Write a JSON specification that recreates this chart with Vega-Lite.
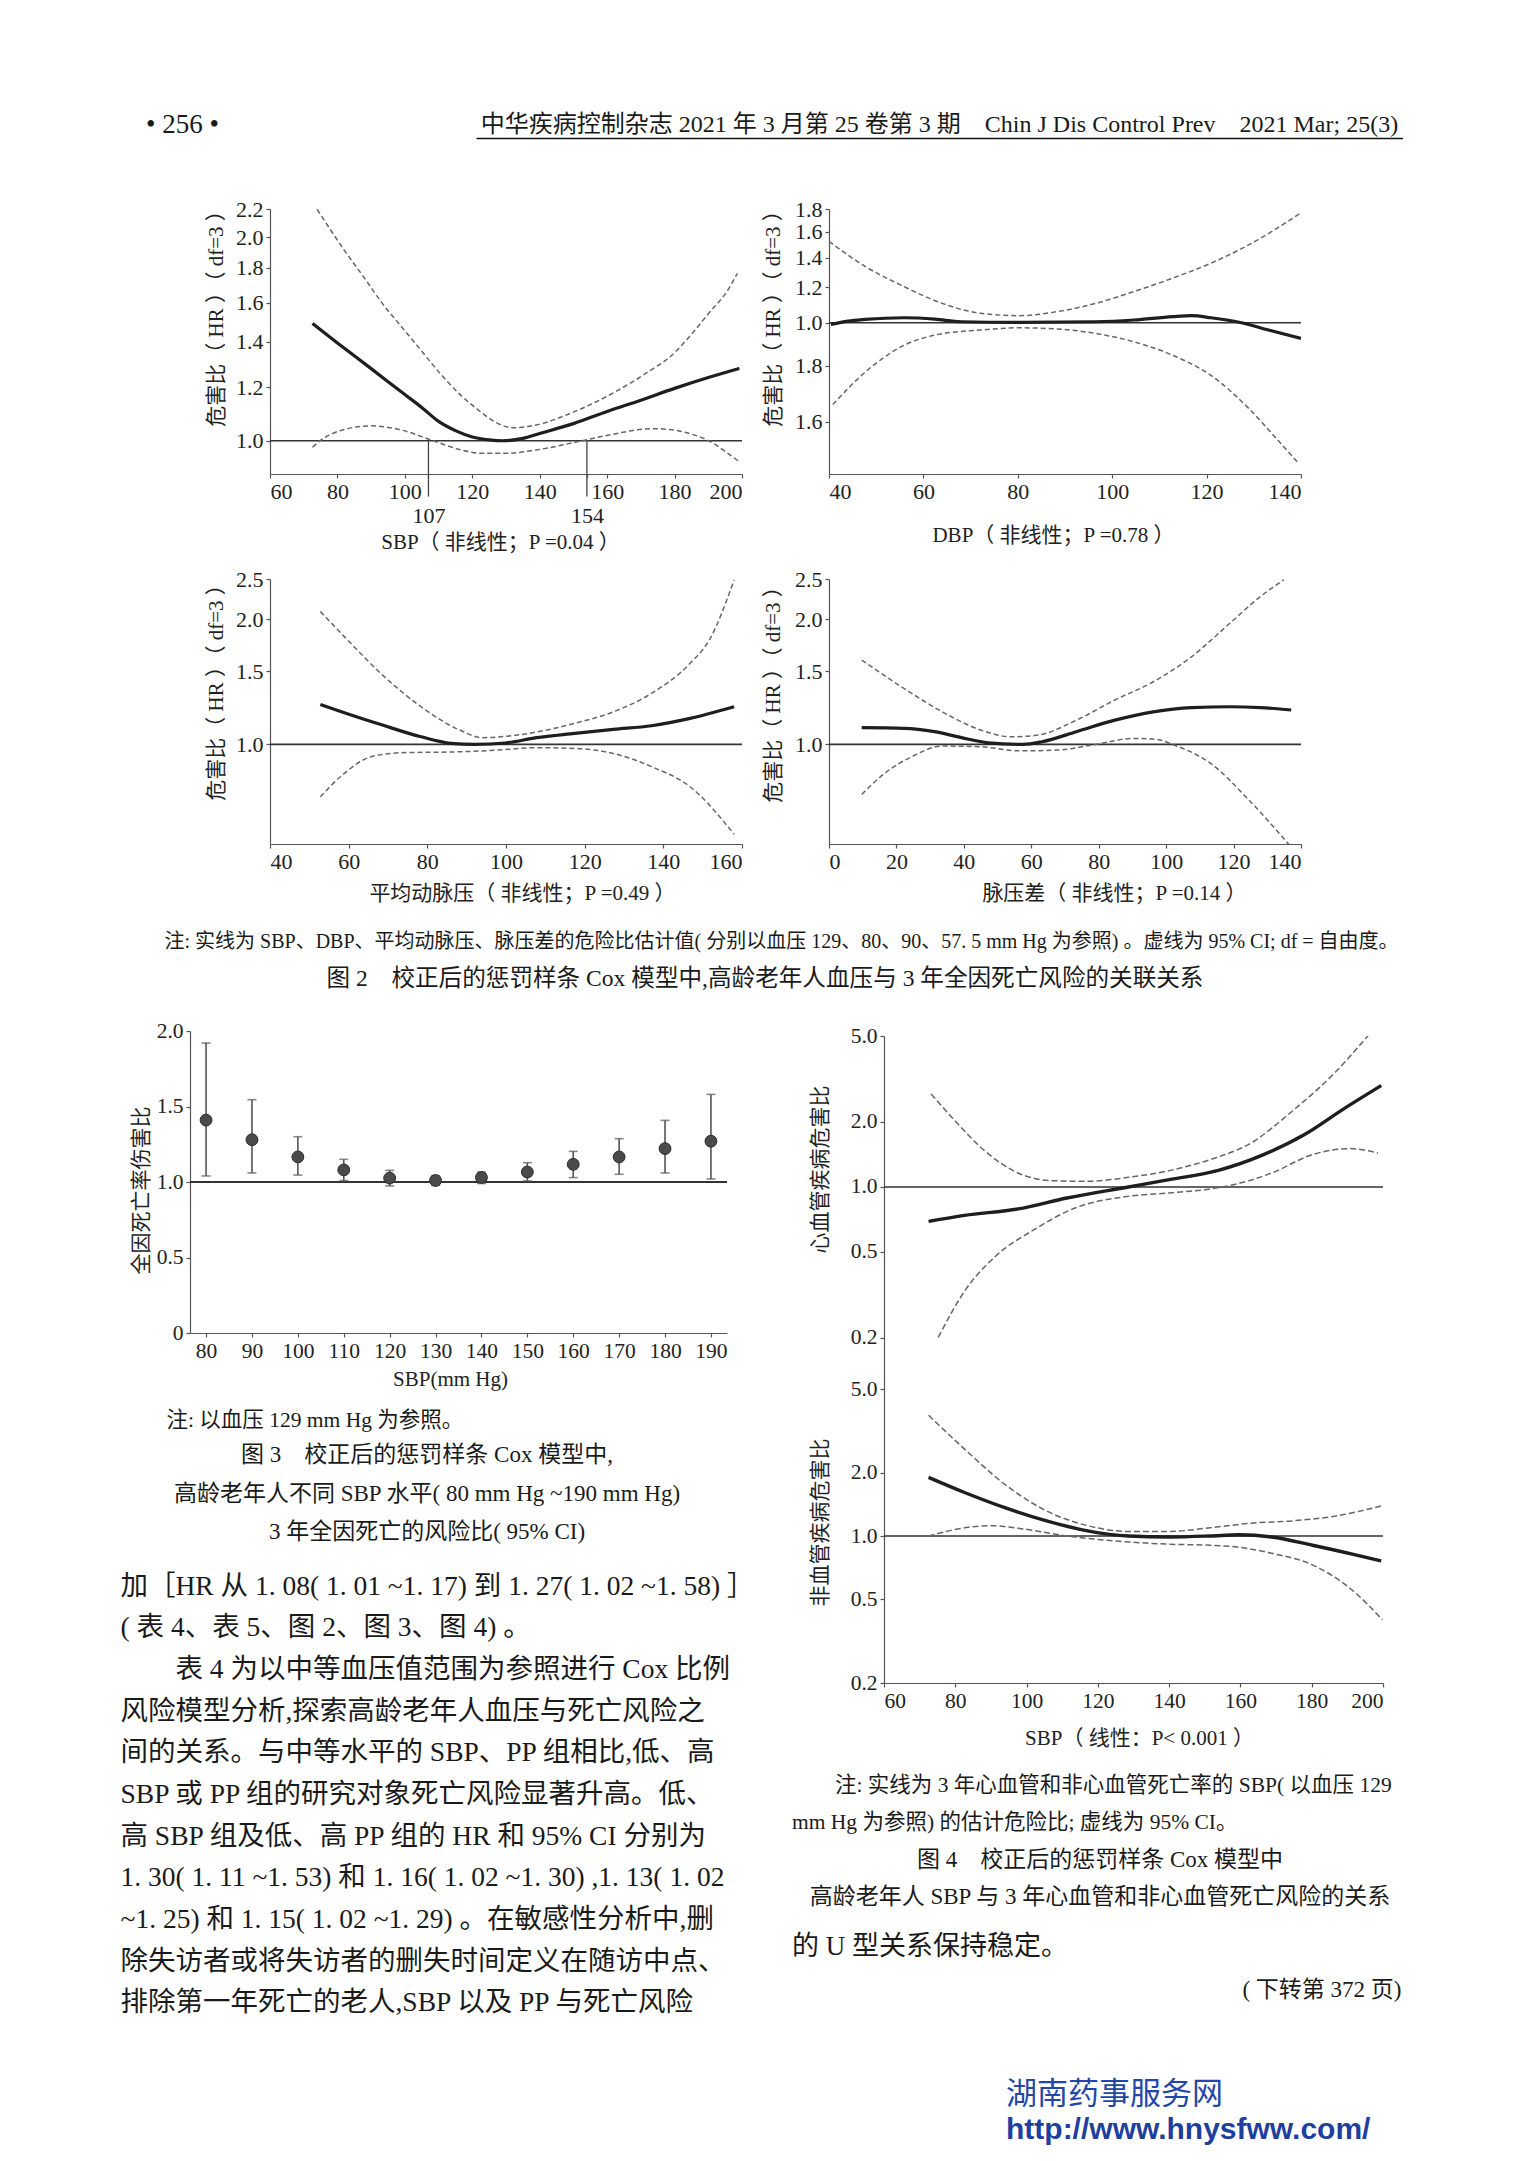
{
"$schema": "https://vega.github.io/schema/vega-lite/v6.json",
"padding": 0,
"autosize": {"type": "pad"},
"background": "white",
"spacing": 0,
"datasets": {
"A": [
{"x":72.6,"hr":1.49,"s":"est"},{"x":80,"hr":1.395,"s":"est"},{"x":90,"hr":1.278,"s":"est"},{"x":100,"hr":1.17,"s":"est"},{"x":105,"hr":1.12,"s":"est"},{"x":110,"hr":1.068,"s":"est"},{"x":115,"hr":1.035,"s":"est"},{"x":120,"hr":1.013,"s":"est"},{"x":125,"hr":1.003,"s":"est"},{"x":129,"hr":1.0,"s":"est"},{"x":135,"hr":1.008,"s":"est"},{"x":140,"hr":1.025,"s":"est"},{"x":145,"hr":1.042,"s":"est"},{"x":150,"hr":1.06,"s":"est"},{"x":160,"hr":1.105,"s":"est"},{"x":170,"hr":1.148,"s":"est"},{"x":180,"hr":1.195,"s":"est"},{"x":190,"hr":1.24,"s":"est"},{"x":199.2,"hr":1.279,"s":"est"},
{"x":74,"hr":2.197,"s":"hi"},{"x":82,"hr":1.913,"s":"hi"},{"x":87.7,"hr":1.748,"s":"hi"},{"x":93.3,"hr":1.596,"s":"hi"},{"x":99,"hr":1.474,"s":"hi"},{"x":104.7,"hr":1.362,"s":"hi"},{"x":110.4,"hr":1.258,"s":"hi"},{"x":116,"hr":1.175,"s":"hi"},{"x":121.8,"hr":1.11,"s":"hi"},{"x":127.5,"hr":1.061,"s":"hi"},{"x":132,"hr":1.045,"s":"hi"},{"x":138.9,"hr":1.055,"s":"hi"},{"x":150.3,"hr":1.104,"s":"hi"},{"x":161.6,"hr":1.175,"s":"hi"},{"x":173,"hr":1.272,"s":"hi"},{"x":178.7,"hr":1.331,"s":"hi"},{"x":184.4,"hr":1.425,"s":"hi"},{"x":190.1,"hr":1.542,"s":"hi"},{"x":195.8,"hr":1.67,"s":"hi"},{"x":198.6,"hr":1.767,"s":"hi"},
{"x":72.6,"hr":0.978,"s":"lo"},{"x":75.1,"hr":1.002,"s":"lo"},{"x":82,"hr":1.039,"s":"lo"},{"x":89.9,"hr":1.052,"s":"lo"},{"x":99,"hr":1.037,"s":"lo"},{"x":108.4,"hr":1.0,"s":"lo"},{"x":116.1,"hr":0.971,"s":"lo"},{"x":123,"hr":0.958,"s":"lo"},{"x":129.8,"hr":0.958,"s":"lo"},{"x":138.9,"hr":0.969,"s":"lo"},{"x":151.4,"hr":0.997,"s":"lo"},{"x":161.6,"hr":1.022,"s":"lo"},{"x":173,"hr":1.042,"s":"lo"},{"x":178.7,"hr":1.039,"s":"lo"},{"x":184.4,"hr":1.025,"s":"lo"},{"x":190.1,"hr":1.0,"s":"lo"},{"x":195.8,"hr":0.958,"s":"lo"},{"x":199.2,"hr":0.931,"s":"lo"}
],
"B": [
{"x":40.4,"hr":0.991,"s":"est"},{"x":44,"hr":1.008,"s":"est"},{"x":47.7,"hr":1.017,"s":"est"},{"x":55.9,"hr":1.026,"s":"est"},{"x":62.4,"hr":1.019,"s":"est"},{"x":68,"hr":1.005,"s":"est"},{"x":80.2,"hr":1.002,"s":"est"},{"x":96.5,"hr":1.005,"s":"est"},{"x":104.6,"hr":1.014,"s":"est"},{"x":112.8,"hr":1.032,"s":"est"},{"x":116.8,"hr":1.037,"s":"est"},{"x":120.9,"hr":1.026,"s":"est"},{"x":127.4,"hr":1.0,"s":"est"},{"x":133.1,"hr":0.963,"s":"est"},{"x":140,"hr":0.922,"s":"est"},
{"x":40,"hr":1.523,"s":"hi"},{"x":47.7,"hr":1.337,"s":"hi"},{"x":55.9,"hr":1.205,"s":"hi"},{"x":64,"hr":1.105,"s":"hi"},{"x":72.1,"hr":1.05,"s":"hi"},{"x":80.2,"hr":1.037,"s":"hi"},{"x":88.4,"hr":1.059,"s":"hi"},{"x":96.5,"hr":1.105,"s":"hi"},{"x":104.6,"hr":1.175,"s":"hi"},{"x":112.8,"hr":1.259,"s":"hi"},{"x":120.9,"hr":1.36,"s":"hi"},{"x":129,"hr":1.497,"s":"hi"},{"x":140,"hr":1.764,"s":"hi"},
{"x":40.8,"hr":0.655,"s":"lo"},{"x":47.7,"hr":0.775,"s":"lo"},{"x":55.9,"hr":0.89,"s":"lo"},{"x":62.4,"hr":0.938,"s":"lo"},{"x":72.1,"hr":0.963,"s":"lo"},{"x":80.2,"hr":0.974,"s":"lo"},{"x":88.4,"hr":0.968,"s":"lo"},{"x":96.5,"hr":0.946,"s":"lo"},{"x":104.6,"hr":0.906,"s":"lo"},{"x":112.8,"hr":0.845,"s":"lo"},{"x":120.9,"hr":0.762,"s":"lo"},{"x":129,"hr":0.641,"s":"lo"},{"x":135.5,"hr":0.539,"s":"lo"},{"x":139.6,"hr":0.482,"s":"lo"}
],
"C": [
{"x":52.8,"hr":1.248,"s":"est"},{"x":58.9,"hr":1.192,"s":"est"},{"x":68.6,"hr":1.113,"s":"est"},{"x":78.4,"hr":1.043,"s":"est"},{"x":86,"hr":1.006,"s":"est"},{"x":92,"hr":1.0,"s":"est"},{"x":99.9,"hr":1.008,"s":"est"},{"x":107.7,"hr":1.038,"s":"est"},{"x":117.5,"hr":1.063,"s":"est"},{"x":127.3,"hr":1.087,"s":"est"},{"x":137,"hr":1.109,"s":"est"},{"x":146.8,"hr":1.155,"s":"est"},{"x":158,"hr":1.232,"s":"est"},
{"x":52.8,"hr":2.088,"s":"hi"},{"x":58.9,"hr":1.817,"s":"hi"},{"x":68.6,"hr":1.469,"s":"hi"},{"x":78.4,"hr":1.232,"s":"hi"},{"x":88.2,"hr":1.083,"s":"hi"},{"x":94,"hr":1.038,"s":"hi"},{"x":102.8,"hr":1.053,"s":"hi"},{"x":117.5,"hr":1.124,"s":"hi"},{"x":127.3,"hr":1.198,"s":"hi"},{"x":137,"hr":1.327,"s":"hi"},{"x":146.8,"hr":1.567,"s":"hi"},{"x":151.7,"hr":1.784,"s":"hi"},{"x":158,"hr":2.488,"s":"hi"},
{"x":52.8,"hr":0.748,"s":"lo"},{"x":58.9,"hr":0.852,"s":"lo"},{"x":65.7,"hr":0.934,"s":"lo"},{"x":73.5,"hr":0.955,"s":"lo"},{"x":88.2,"hr":0.96,"s":"lo"},{"x":98,"hr":0.969,"s":"lo"},{"x":107.7,"hr":0.982,"s":"lo"},{"x":117.5,"hr":0.978,"s":"lo"},{"x":127.3,"hr":0.951,"s":"lo"},{"x":137,"hr":0.884,"s":"lo"},{"x":146.8,"hr":0.791,"s":"lo"},{"x":158,"hr":0.608,"s":"lo"}
],
"D": [
{"x":9.7,"hr":1.097,"s":"est"},{"x":22.2,"hr":1.093,"s":"est"},{"x":31.3,"hr":1.073,"s":"est"},{"x":39.3,"hr":1.038,"s":"est"},{"x":47.2,"hr":1.009,"s":"est"},{"x":57.5,"hr":1.0,"s":"est"},{"x":63.2,"hr":1.015,"s":"est"},{"x":73.4,"hr":1.073,"s":"est"},{"x":84.8,"hr":1.144,"s":"est"},{"x":96.2,"hr":1.198,"s":"est"},{"x":107.6,"hr":1.226,"s":"est"},{"x":118.9,"hr":1.232,"s":"est"},{"x":128,"hr":1.226,"s":"est"},{"x":137.1,"hr":1.21,"s":"est"},
{"x":9.7,"hr":1.596,"s":"hi"},{"x":22.2,"hr":1.364,"s":"hi"},{"x":33.6,"hr":1.198,"s":"hi"},{"x":45,"hr":1.083,"s":"hi"},{"x":54.1,"hr":1.043,"s":"hi"},{"x":62,"hr":1.053,"s":"hi"},{"x":73.4,"hr":1.144,"s":"hi"},{"x":84.8,"hr":1.279,"s":"hi"},{"x":96.2,"hr":1.415,"s":"hi"},{"x":107.6,"hr":1.627,"s":"hi"},{"x":118.9,"hr":1.956,"s":"hi"},{"x":128,"hr":2.27,"s":"hi"},{"x":134.9,"hr":2.488,"s":"hi"},
{"x":9.7,"hr":0.758,"s":"lo"},{"x":16.5,"hr":0.852,"s":"lo"},{"x":24.5,"hr":0.934,"s":"lo"},{"x":33.6,"hr":0.991,"s":"lo"},{"x":45,"hr":0.987,"s":"lo"},{"x":56.3,"hr":0.965,"s":"lo"},{"x":67.7,"hr":0.969,"s":"lo"},{"x":79.1,"hr":1.0,"s":"lo"},{"x":90.5,"hr":1.034,"s":"lo"},{"x":97.3,"hr":1.028,"s":"lo"},{"x":101.9,"hr":1.0,"s":"lo"},{"x":113.2,"hr":0.9,"s":"lo"},{"x":124.6,"hr":0.734,"s":"lo"},{"x":136.6,"hr":0.572,"s":"lo"}
],
"F3": [
{"sbp":80,"hr":1.41,"lo":1.04,"hi":1.92},{"sbp":90,"hr":1.28,"lo":1.06,"hi":1.545},{"sbp":100,"hr":1.166,"lo":1.046,"hi":1.3},{"sbp":110,"hr":1.08,"lo":1.01,"hi":1.15},{"sbp":120,"hr":1.026,"lo":0.974,"hi":1.077},{"sbp":130,"hr":1.01,"lo":0.978,"hi":1.042},{"sbp":140,"hr":1.03,"lo":0.99,"hi":1.066},{"sbp":150,"hr":1.066,"lo":1.007,"hi":1.128},{"sbp":160,"hr":1.117,"lo":1.029,"hi":1.203},{"sbp":170,"hr":1.166,"lo":1.051,"hi":1.287},{"sbp":180,"hr":1.221,"lo":1.06,"hi":1.408},{"sbp":190,"hr":1.27,"lo":1.02,"hi":1.58}
],
"F4a": [
{"x":72.5,"hr":0.693,"s":"est"},{"x":82.6,"hr":0.739,"s":"est"},{"x":97.6,"hr":0.791,"s":"est"},{"x":111.3,"hr":0.889,"s":"est"},{"x":128.6,"hr":1.0,"s":"est"},{"x":140,"hr":1.081,"s":"est"},{"x":153.8,"hr":1.194,"s":"est"},{"x":166.5,"hr":1.412,"s":"est"},{"x":178,"hr":1.748,"s":"est"},{"x":189.4,"hr":2.323,"s":"est"},{"x":199.5,"hr":2.948,"s":"est"},
{"x":73.2,"hr":2.697,"s":"hi"},{"x":79.2,"hr":2.088,"s":"hi"},{"x":88.4,"hr":1.463,"s":"hi"},{"x":97.6,"hr":1.161,"s":"hi"},{"x":106.7,"hr":1.07,"s":"hi"},{"x":117.1,"hr":1.062,"s":"hi"},{"x":128.6,"hr":1.108,"s":"hi"},{"x":140,"hr":1.19,"s":"hi"},{"x":151.5,"hr":1.339,"s":"hi"},{"x":163,"hr":1.599,"s":"hi"},{"x":174.5,"hr":2.242,"s":"hi"},{"x":186,"hr":3.317,"s":"hi"},{"x":196.1,"hr":5.08,"s":"hi"},
{"x":75.2,"hr":0.201,"s":"lo"},{"x":82.6,"hr":0.329,"s":"lo"},{"x":91.8,"hr":0.486,"s":"lo"},{"x":102.1,"hr":0.634,"s":"lo"},{"x":113.6,"hr":0.799,"s":"lo"},{"x":128.6,"hr":0.905,"s":"lo"},{"x":140,"hr":0.938,"s":"lo"},{"x":151.5,"hr":0.979,"s":"lo"},{"x":157.3,"hr":1.018,"s":"lo"},{"x":168.8,"hr":1.161,"s":"lo"},{"x":180.2,"hr":1.412,"s":"lo"},{"x":190.6,"hr":1.505,"s":"lo"},{"x":198.6,"hr":1.437,"s":"lo"}
],
"F4b": [
{"x":72.5,"hr":1.9,"s":"est"},{"x":82.6,"hr":1.61,"s":"est"},{"x":94.1,"hr":1.36,"s":"est"},{"x":105.6,"hr":1.18,"s":"est"},{"x":117.1,"hr":1.058,"s":"est"},{"x":128.6,"hr":1.0,"s":"est"},{"x":140,"hr":0.989,"s":"est"},{"x":151.5,"hr":1.0,"s":"est"},{"x":159.6,"hr":1.013,"s":"est"},{"x":168.8,"hr":0.989,"s":"est"},{"x":180.2,"hr":0.904,"s":"est"},{"x":191.7,"hr":0.818,"s":"est"},{"x":199.5,"hr":0.761,"s":"est"},
{"x":72.5,"hr":3.75,"s":"hi"},{"x":82.6,"hr":2.59,"s":"hi"},{"x":94.1,"hr":1.75,"s":"hi"},{"x":105.6,"hr":1.316,"s":"hi"},{"x":117.1,"hr":1.12,"s":"hi"},{"x":128.6,"hr":1.051,"s":"hi"},{"x":140,"hr":1.051,"s":"hi"},{"x":151.5,"hr":1.094,"s":"hi"},{"x":163,"hr":1.151,"s":"hi"},{"x":174.5,"hr":1.18,"s":"hi"},{"x":186,"hr":1.239,"s":"hi"},{"x":199.8,"hr":1.393,"s":"hi"},
{"x":72.5,"hr":1.0,"s":"lo"},{"x":82.6,"hr":1.094,"s":"lo"},{"x":89.5,"hr":1.12,"s":"lo"},{"x":99.9,"hr":1.076,"s":"lo"},{"x":111.3,"hr":1.0,"s":"lo"},{"x":122.8,"hr":0.954,"s":"lo"},{"x":140,"hr":0.914,"s":"lo"},{"x":151.5,"hr":0.904,"s":"lo"},{"x":160.7,"hr":0.879,"s":"lo"},{"x":168.8,"hr":0.827,"s":"lo"},{"x":180.2,"hr":0.729,"s":"lo"},{"x":191.7,"hr":0.547,"s":"lo"},{"x":199.8,"hr":0.4,"s":"lo"}
]
},
"vconcat": [
{"columns": 2, "bounds": "flush", "spacing": 0, "concat": [
{"width":476,"height":111,"data":{"values":[]},"mark":"text"},
{"width":927,"height":1,"data":{"values":[]},"mark":"text"},
{"width":365,"height":27,"data":{"values":[{"t":"• 256 •"}]},"mark":{"type":"text","align":"center","baseline":"middle","fontSize":27},"encoding":{"text":{"field":"t"}}},
{"width":927,"height":27,"data":{"values":[{"t":"中华疾病控制杂志 2021 年 3 月第 25 卷第 3 期　Chin J Dis Control Prev　2021 Mar; 25(3)"}]},"mark":{"type":"text","align":"center","baseline":"middle","fontSize":24},"encoding":{"text":{"field":"t"},"x":{"field":"t","type":"nominal","axis":{"title":null,"labels":false,"ticks":false,"domain":true,"domainColor":"#111","domainWidth":1.5}}}},
{"width":1,"height":37,"data":{"values":[]},"mark":"text"},
{"width":1,"height":1,"data":{"values":[]},"mark":"text"}
]},
{"columns": 5, "bounds": "flush", "spacing": 0, "concat": [
{"width":164,"height":34,"data":{"values":[]},"mark":"text"},
{"width":106,"height":1,"data":{"values":[]},"mark":"text"},
{"width":472,"height":1,"data":{"values":[]},"mark":"text"},
{"width":87,"height":1,"data":{"values":[]},"mark":"text"},
{"width":472,"height":1,"data":{"values":[]},"mark":"text"},

{"width":1,"height":1,"data":{"values":[]},"mark":"text"},
{"width":1,"height":1,"data":{"values":[]},"mark":"text"},
{"width":472,"height":265,"layer":[
 {"data":{"values":[{}]},"mark":{"type":"rule","color":"#333","strokeWidth":1.6},"encoding":{"y":{"datum":1,"type":"quantitative"}}},
 {"data":{"values":[{"x":107,"y1":1,"y2":0.827},{"x":154,"y1":1,"y2":0.827}]},"mark":{"type":"rule","color":"#444","strokeWidth":1.3},"encoding":{"x":{"field":"x","type":"quantitative","scale":{"domain":[60,200],"nice":false,"zero":false},"axis":{"values":[60,80,100,107,120,140,154,160,180,200],"labelExpr":"(datum.value == 107 || datum.value == 154) ? ['', datum.label] : datum.label","title":"SBP（ 非线性；P =0.04 ）","titleX":230,"titleY":68,"titleBaseline":"middle"}},"y":{"field":"y1","type":"quantitative","scale":{"type":"log","domain":[0.893,2.2],"nice":false},"axis":{"values":[1.0,1.2,1.4,1.6,1.8,2.0,2.2],"labelExpr":"format(datum.value, '.1f')","title":"危害比（ HR ）（ df=3 ）","titleX":-54,"titleY":104,"titleBaseline":"middle","titleAngle":-90}},"y2":{"field":"y2"}}},
 {"data":{"name":"A"},"transform":[{"filter":"datum.s == 'est'"}],"mark":{"type":"line","interpolate":"monotone","color":"#1e1e1e","strokeWidth":3.2,"clip":true},"encoding":{"x":{"field":"x","type":"quantitative","scale":{"domain":[60,200],"nice":false,"zero":false},"axis":{"values":[60,80,100,107,120,140,154,160,180,200],"labelExpr":"(datum.value == 107 || datum.value == 154) ? ['', datum.label] : datum.label","title":"SBP（ 非线性；P =0.04 ）","titleX":230,"titleY":68,"titleBaseline":"middle"}},"y":{"field":"hr","type":"quantitative","scale":{"type":"log","domain":[0.893,2.2],"nice":false},"axis":{"values":[1.0,1.2,1.4,1.6,1.8,2.0,2.2],"labelExpr":"format(datum.value, '.1f')","title":"危害比（ HR ）（ df=3 ）","titleX":-54,"titleY":104,"titleBaseline":"middle","titleAngle":-90}}}},
 {"data":{"name":"A"},"transform":[{"filter":"datum.s != 'est'"}],"mark":{"type":"line","interpolate":"monotone","color":"#666","strokeWidth":1.5,"strokeDash":[5,3],"clip":true},"encoding":{"x":{"field":"x","type":"quantitative"},"y":{"field":"hr","type":"quantitative"},"detail":{"field":"s"}}}
]},
{"width":1,"height":1,"data":{"values":[]},"mark":"text"},
{"width":472,"height":265,"data":{"name":"B"},"layer":[
 {"data":{"values":[{}]},"mark":{"type":"rule","color":"#333","strokeWidth":1.6},"encoding":{"y":{"datum":1,"type":"quantitative"}}},
 {"transform":[{"filter":"datum.s == 'est'"}],"mark":{"type":"line","interpolate":"monotone","color":"#1e1e1e","strokeWidth":3.2,"clip":true},"encoding":{"x":{"field":"x","type":"quantitative","scale":{"domain":[40,140],"nice":false,"zero":false},"axis":{"values":[40,60,80,100,120,140],"title":"DBP（ 非线性；P =0.78 ）","titleX":224,"titleY":61,"titleBaseline":"middle"}},"y":{"field":"hr","type":"quantitative","scale":{"type":"log","domain":[0.4575,1.8],"nice":false},"axis":{"values":[0.6,0.8,1.0,1.2,1.4,1.6,1.8],"labelExpr":"datum.value == 0.8 ? '1.8' : datum.value == 0.6 ? '1.6' : format(datum.value, '.1f')","title":"危害比（ HR ）（ df=3 ）","titleX":-56,"titleY":104,"titleBaseline":"middle","titleAngle":-90}}}},
 {"transform":[{"filter":"datum.s != 'est'"}],"mark":{"type":"line","interpolate":"monotone","color":"#666","strokeWidth":1.5,"strokeDash":[5,3],"clip":true},"encoding":{"x":{"field":"x","type":"quantitative"},"y":{"field":"hr","type":"quantitative"},"detail":{"field":"s"}}}
]},

{"width":1,"height":105,"data":{"values":[]},"mark":"text"},
{"width":1,"height":1,"data":{"values":[]},"mark":"text"},
{"width":1,"height":1,"data":{"values":[]},"mark":"text"},
{"width":1,"height":1,"data":{"values":[]},"mark":"text"},
{"width":1,"height":1,"data":{"values":[]},"mark":"text"},

{"width":1,"height":1,"data":{"values":[]},"mark":"text"},
{"width":1,"height":1,"data":{"values":[]},"mark":"text"},
{"width":472,"height":265,"data":{"name":"C"},"layer":[
 {"data":{"values":[{}]},"mark":{"type":"rule","color":"#333","strokeWidth":1.6},"encoding":{"y":{"datum":1,"type":"quantitative"}}},
 {"transform":[{"filter":"datum.s == 'est'"}],"mark":{"type":"line","interpolate":"monotone","color":"#1e1e1e","strokeWidth":3.2,"clip":true},"encoding":{"x":{"field":"x","type":"quantitative","scale":{"domain":[40,160],"nice":false,"zero":false},"axis":{"values":[40,60,80,100,120,140,160],"title":"平均动脉压（ 非线性；P =0.49 ）","titleX":252,"titleY":49,"titleBaseline":"middle"}},"y":{"field":"hr","type":"quantitative","scale":{"type":"log","domain":[0.576,2.5],"nice":false},"axis":{"values":[1.0,1.5,2.0,2.5],"labelExpr":"format(datum.value, '.1f')","title":"危害比（ HR ）（ df=3 ）","titleX":-54,"titleY":108,"titleBaseline":"middle","titleAngle":-90}}}},
 {"transform":[{"filter":"datum.s != 'est'"}],"mark":{"type":"line","interpolate":"monotone","color":"#666","strokeWidth":1.5,"strokeDash":[5,3],"clip":true},"encoding":{"x":{"field":"x","type":"quantitative"},"y":{"field":"hr","type":"quantitative"},"detail":{"field":"s"}}}
]},
{"width":1,"height":1,"data":{"values":[]},"mark":"text"},
{"width":472,"height":265,"data":{"name":"D"},"layer":[
 {"data":{"values":[{}]},"mark":{"type":"rule","color":"#333","strokeWidth":1.6},"encoding":{"y":{"datum":1,"type":"quantitative"}}},
 {"transform":[{"filter":"datum.s == 'est'"}],"mark":{"type":"line","interpolate":"monotone","color":"#1e1e1e","strokeWidth":3.2,"clip":true},"encoding":{"x":{"field":"x","type":"quantitative","scale":{"domain":[0,140],"nice":false,"zero":false},"axis":{"values":[0,20,40,60,80,100,120,140],"title":"脉压差（ 非线性；P =0.14 ）","titleX":285,"titleY":49,"titleBaseline":"middle"}},"y":{"field":"hr","type":"quantitative","scale":{"type":"log","domain":[0.576,2.5],"nice":false},"axis":{"values":[1.0,1.5,2.0,2.5],"labelExpr":"format(datum.value, '.1f')","title":"危害比（ HR ）（ df=3 ）","titleX":-56,"titleY":110,"titleBaseline":"middle","titleAngle":-90}}}},
 {"transform":[{"filter":"datum.s != 'est'"}],"mark":{"type":"line","interpolate":"monotone","color":"#666","strokeWidth":1.5,"strokeDash":[5,3],"clip":true},"encoding":{"x":{"field":"x","type":"quantitative"},"y":{"field":"hr","type":"quantitative"},"detail":{"field":"s"}}}
]},

{"width":1,"height":84,"data":{"values":[]},"mark":"text"},
{"width":1,"height":1,"data":{"values":[]},"mark":"text"},
{"width":1,"height":1,"data":{"values":[]},"mark":"text"},
{"width":1,"height":1,"data":{"values":[]},"mark":"text"},
{"width":1,"height":1,"data":{"values":[]},"mark":"text"},

{"width":1,"height":1,"data":{"values":[]},"mark":"text"},
{"width":1,"height":28,"data":{"values":[{"t":"注: 实线为 SBP、DBP、平均动脉压、脉压差的危险比估计值( 分别以血压 129、80、90、57. 5 mm Hg 为参照) 。虚线为 95% CI; df = 自由度。"}]},"mark":{"type":"text","align":"left","baseline":"middle","fontSize":20},"encoding":{"text":{"field":"t"}}},
{"width":1,"height":1,"data":{"values":[]},"mark":"text"},
{"width":1,"height":1,"data":{"values":[]},"mark":"text"},
{"width":1,"height":1,"data":{"values":[]},"mark":"text"},

{"width":1,"height":9,"data":{"values":[]},"mark":"text"},
{"width":1,"height":1,"data":{"values":[]},"mark":"text"},
{"width":1,"height":1,"data":{"values":[]},"mark":"text"},
{"width":1,"height":1,"data":{"values":[]},"mark":"text"},
{"width":1,"height":1,"data":{"values":[]},"mark":"text"},

{"width":1,"height":1,"data":{"values":[]},"mark":"text"},
{"width":1,"height":1,"data":{"values":[]},"mark":"text"},
{"width":1,"height":1,"data":{"values":[]},"mark":"text"},
{"width":46,"height":28,"data":{"values":[{"t":"图 2　校正后的惩罚样条 Cox 模型中,高龄老年人血压与 3 年全因死亡风险的关联关系"}]},"mark":{"type":"text","align":"center","baseline":"middle","fontSize":23.6},"encoding":{"text":{"field":"t"}}},
{"width":1,"height":1,"data":{"values":[]},"mark":"text"},

{"width":1,"height":12,"data":{"values":[]},"mark":"text"},
{"width":1,"height":1,"data":{"values":[]},"mark":"text"},
{"width":1,"height":1,"data":{"values":[]},"mark":"text"},
{"width":1,"height":1,"data":{"values":[]},"mark":"text"},
{"width":1,"height":1,"data":{"values":[]},"mark":"text"}
]},
{"spacing": 0, "hconcat": [
{"columns": 4, "bounds": "flush", "spacing": 0, "concat": [
{"width":120,"height":26,"data":{"values":[]},"mark":"text"},
{"width":46,"height":1,"data":{"values":[]},"mark":"text"},
{"width":24,"height":1,"data":{"values":[]},"mark":"text"},
{"width":570,"height":1,"data":{"values":[]},"mark":"text"},

{"width":1,"height":1,"data":{"values":[]},"mark":"text"},
{"width":1,"height":1,"data":{"values":[]},"mark":"text"},
{"width":1,"height":1,"data":{"values":[]},"mark":"text"},
{"width":537,"height":302,"data":{"name":"F3"},"layer":[
 {"data":{"values":[{}]},"mark":{"type":"rule","color":"#333","strokeWidth":1.8},"encoding":{"y":{"datum":1,"type":"quantitative"}}},
 {"mark":{"type":"rule","color":"#555","strokeWidth":1.6},"encoding":{"x":{"field":"sbp","type":"quantitative","scale":{"domain":[76.5,193.5],"nice":false,"zero":false},"axis":{"values":[80,90,100,110,120,130,140,150,160,170,180,190],"labelFontSize":21.5,"title":"SBP(mm Hg)","titleX":260,"titleY":46,"titleBaseline":"middle","titleFontSize":21}},"y":{"field":"lo","type":"quantitative","scale":{"domain":[0,2],"nice":false},"axis":{"values":[0,0.5,1,1.5,2],"labelFontSize":21.5,"labelExpr":"datum.value == 0 ? '0' : format(datum.value, '.1f')","title":"全因死亡率伤害比","titleX":-49,"titleY":159,"titleBaseline":"middle","titleAngle":-90,"titleFontSize":21}},"y2":{"field":"hi"}}},
 {"mark":{"type":"tick","orient":"horizontal","size":9,"thickness":1.6,"color":"#555"},"encoding":{"x":{"field":"sbp","type":"quantitative"},"y":{"field":"lo","type":"quantitative"}}},
 {"mark":{"type":"tick","orient":"horizontal","size":9,"thickness":1.6,"color":"#555"},"encoding":{"x":{"field":"sbp","type":"quantitative"},"y":{"field":"hi","type":"quantitative"}}},
 {"mark":{"type":"circle","size":140,"color":"#4a4a4a","opacity":1,"stroke":"#2a2a2a","strokeWidth":1},"encoding":{"x":{"field":"sbp","type":"quantitative"},"y":{"field":"hr","type":"quantitative"}}}
]},

{"width":1,"height":74,"data":{"values":[]},"mark":"text"},
{"width":1,"height":1,"data":{"values":[]},"mark":"text"},
{"width":1,"height":1,"data":{"values":[]},"mark":"text"},
{"width":1,"height":1,"data":{"values":[]},"mark":"text"},

{"width":1,"height":29,"data":{"values":[]},"mark":"text"},
{"width":1,"height":1,"data":{"values":[]},"mark":"text"},
{"width":1,"height":28,"data":{"values":[{"t":"注: 以血压 129 mm Hg 为参照。"}]},"mark":{"type":"text","align":"left","baseline":"middle","fontSize":21.5},"encoding":{"text":{"field":"t"}}},
{"width":1,"height":1,"data":{"values":[]},"mark":"text"},

{"width":1,"height":115,"data":{"values":[]},"mark":"text"},
{"width":1,"height":1,"data":{"values":[]},"mark":"text"},
{"width":1,"height":1,"data":{"values":[]},"mark":"text"},
{"width":474,"height":115,"data":{"values":[{"i":1,"t":"图 3　校正后的惩罚样条 Cox 模型中,"},{"i":2,"t":"高龄老年人不同 SBP 水平( 80 mm Hg ~190 mm Hg)"},{"i":3,"t":"3 年全因死亡的风险比( 95% CI)"}]},"mark":{"type":"text","align":"center","baseline":"middle","fontSize":23},"encoding":{"y":{"field":"i","type":"ordinal","axis":null},"text":{"field":"t"}}},

{"width":1,"height":15,"data":{"values":[]},"mark":"text"},
{"width":1,"height":1,"data":{"values":[]},"mark":"text"},
{"width":1,"height":1,"data":{"values":[]},"mark":"text"},
{"width":1,"height":1,"data":{"values":[]},"mark":"text"},

{"width":1,"height":1,"data":{"values":[]},"mark":"text"},
{"width":1,"height":458,"data":{"values":[
 {"i":1,"t":"加［HR 从 1. 08( 1. 01 ~1. 17) 到 1. 27( 1. 02 ~1. 58) ］"},
 {"i":2,"t":"( 表 4、表 5、图 2、图 3、图 4) 。"},
 {"i":3,"t":"\u200b　　表 4 为以中等血压值范围为参照进行 Cox 比例"},
 {"i":4,"t":"风险模型分析,探索高龄老年人血压与死亡风险之"},
 {"i":5,"t":"间的关系。与中等水平的 SBP、PP 组相比,低、高"},
 {"i":6,"t":"SBP 或 PP 组的研究对象死亡风险显著升高。低、"},
 {"i":7,"t":"高 SBP 组及低、高 PP 组的 HR 和 95% CI 分别为"},
 {"i":8,"t":"1. 30( 1. 11 ~1. 53) 和 1. 16( 1. 02 ~1. 30) ,1. 13( 1. 02"},
 {"i":9,"t":"~1. 25) 和 1. 15( 1. 02 ~1. 29) 。在敏感性分析中,删"},
 {"i":10,"t":"除失访者或将失访者的删失时间定义在随访中点、"},
 {"i":11,"t":"排除第一年死亡的老人,SBP 以及 PP 与死亡风险"}
]},"mark":{"type":"text","align":"left","baseline":"middle","fontSize":27.5},"encoding":{"y":{"field":"i","type":"ordinal","axis":null},"text":{"field":"t"}}},
{"width":1,"height":1,"data":{"values":[]},"mark":"text"},
{"width":1,"height":1,"data":{"values":[]},"mark":"text"}
]},
{"columns": 3, "bounds": "flush", "spacing": 0, "concat": [
{"width":124,"height":31,"data":{"values":[]},"mark":"text"},
{"width":517,"height":1,"data":{"values":[]},"mark":"text"},
{"width":1,"height":1,"data":{"values":[]},"mark":"text"},

{"width":1,"height":1,"data":{"values":[]},"mark":"text"},
{"width":499,"height":353,"data":{"name":"F4a"},"layer":[
 {"data":{"values":[{}]},"mark":{"type":"rule","color":"#333","strokeWidth":1.6},"encoding":{"y":{"datum":1,"type":"quantitative"}}},
 {"transform":[{"filter":"datum.s == 'est'"}],"mark":{"type":"line","interpolate":"monotone","color":"#1e1e1e","strokeWidth":3.4,"clip":true},"encoding":{"x":{"field":"x","type":"quantitative","scale":{"domain":[60,200],"nice":false,"zero":false},"axis":null},"y":{"field":"hr","type":"quantitative","scale":{"type":"log","domain":[0.116,5],"nice":false},"axis":{"values":[0.2,0.5,1,2,5],"labelFontSize":21.5,"labelExpr":"format(datum.value, '.1f')","title":"心血管疾病危害比","titleX":-64,"titleY":133,"titleBaseline":"middle","titleAngle":-90,"titleFontSize":21}}}},
 {"transform":[{"filter":"datum.s != 'est'"}],"mark":{"type":"line","interpolate":"monotone","color":"#666","strokeWidth":1.5,"strokeDash":[6,3],"clip":true},"encoding":{"x":{"field":"x","type":"quantitative"},"y":{"field":"hr","type":"quantitative"},"detail":{"field":"s"}}}
]},
{"width":1,"height":1,"data":{"values":[]},"mark":"text"},

{"width":1,"height":1,"data":{"values":[]},"mark":"text"},
{"width":499,"height":294,"data":{"name":"F4b"},"layer":[
 {"data":{"values":[{}]},"mark":{"type":"rule","color":"#333","strokeWidth":1.6},"encoding":{"y":{"datum":1,"type":"quantitative"}}},
 {"transform":[{"filter":"datum.s == 'est'"}],"mark":{"type":"line","interpolate":"monotone","color":"#1e1e1e","strokeWidth":3.4,"clip":true},"encoding":{"x":{"field":"x","type":"quantitative","scale":{"domain":[60,200],"nice":false,"zero":false},"axis":{"values":[60,80,100,120,140,160,180,200],"labelFontSize":21.5,"title":"SBP（ 线性：P< 0.001 ）","titleX":255,"titleY":55,"titleBaseline":"middle"}},"y":{"field":"hr","type":"quantitative","scale":{"type":"log","domain":[0.2,5],"nice":false},"axis":{"values":[0.2,0.5,1,2,5],"labelFontSize":21.5,"labelExpr":"format(datum.value, '.1f')","title":"非血管疾病危害比","titleX":-64,"titleY":133,"titleBaseline":"middle","titleAngle":-90,"titleFontSize":21}}}},
 {"transform":[{"filter":"datum.s != 'est'"}],"mark":{"type":"line","interpolate":"monotone","color":"#666","strokeWidth":1.5,"strokeDash":[6,3],"clip":true},"encoding":{"x":{"field":"x","type":"quantitative"},"y":{"field":"hr","type":"quantitative"},"detail":{"field":"s"}}}
]},
{"width":1,"height":1,"data":{"values":[]},"mark":"text"},

{"width":1,"height":85,"data":{"values":[]},"mark":"text"},
{"width":1,"height":1,"data":{"values":[]},"mark":"text"},
{"width":1,"height":1,"data":{"values":[]},"mark":"text"},

{"width":64,"height":73,"data":{"values":[{"i":1,"t":"\u200b　　注: 实线为 3 年心血管和非心血管死亡率的 SBP( 以血压 129"},{"i":2,"t":"mm Hg 为参照) 的估计危险比; 虚线为 95% CI。"}]},"mark":{"type":"text","align":"left","baseline":"middle","fontSize":21.5},"encoding":{"y":{"field":"i","type":"ordinal","axis":null},"text":{"field":"t"}}},
{"width":1,"height":1,"data":{"values":[]},"mark":"text"},
{"width":1,"height":1,"data":{"values":[]},"mark":"text"},

{"width":1,"height":74,"data":{"values":[]},"mark":"text"},
{"width":432,"height":74,"data":{"values":[{"i":1,"t":"图 4　校正后的惩罚样条 Cox 模型中"},{"i":2,"t":"高龄老年人 SBP 与 3 年心血管和非心血管死亡风险的关系"}]},"mark":{"type":"text","align":"center","baseline":"middle","fontSize":23},"encoding":{"y":{"field":"i","type":"ordinal","axis":null},"text":{"field":"t"}}},
{"width":1,"height":1,"data":{"values":[]},"mark":"text"},

{"width":1,"height":12,"data":{"values":[]},"mark":"text"},
{"width":1,"height":1,"data":{"values":[]},"mark":"text"},
{"width":1,"height":1,"data":{"values":[]},"mark":"text"},

{"width":64,"height":40,"data":{"values":[{"t":"的 U 型关系保持稳定。"}]},"mark":{"type":"text","align":"left","baseline":"middle","fontSize":27},"encoding":{"text":{"field":"t"}}},
{"width":1,"height":1,"data":{"values":[]},"mark":"text"},
{"width":1,"height":1,"data":{"values":[]},"mark":"text"},

{"width":1,"height":7,"data":{"values":[]},"mark":"text"},
{"width":1,"height":1,"data":{"values":[]},"mark":"text"},
{"width":1,"height":1,"data":{"values":[]},"mark":"text"},

{"width":1,"height":32,"data":{"values":[]},"mark":"text"},
{"width":1,"height":1,"data":{"values":[]},"mark":"text"},
{"width":1,"height":32,"data":{"values":[{"t":"( 下转第 372 页)"}]},"mark":{"type":"text","align":"right","baseline":"middle","fontSize":23},"encoding":{"text":{"field":"t"}}},

{"width":1,"height":72,"data":{"values":[]},"mark":"text"},
{"width":1,"height":1,"data":{"values":[]},"mark":"text"},
{"width":1,"height":1,"data":{"values":[]},"mark":"text"},

{"width":1,"height":34,"data":{"values":[]},"mark":"text"},
{"width":244,"height":34,"data":{"values":[{"t":"湖南药事服务网"}]},"mark":{"type":"text","align":"left","baseline":"middle","fontSize":31,"font":"Noto Sans CJK SC","color":"#2346a8"},"encoding":{"text":{"field":"t"}}},
{"width":1,"height":1,"data":{"values":[]},"mark":"text"},

{"width":1,"height":36,"data":{"values":[]},"mark":"text"},
{"width":244,"height":36,"data":{"values":[{"t":"http://www.hnysfww.com/"}]},"mark":{"type":"text","align":"left","baseline":"middle","fontSize":30,"font":"Liberation Sans","fontWeight":"bold","color":"#1f3f9f"},"encoding":{"text":{"field":"t"}}},
{"width":1,"height":1,"data":{"values":[]},"mark":"text"}
]}
]}
],
"config": {
 "view": {"stroke": null},
 "font": "Liberation Serif, Noto Sans CJK SC",
 "text": {"color": "#1a1a1a", "font": "Liberation Serif, Noto Sans CJK SC"},
 "axis": {"labelFont": "Liberation Serif", "titleFont": "Liberation Serif, Noto Sans CJK SC", "labelFontSize": 22, "titleFontSize": 21, "labelColor": "#222", "titleColor": "#222", "titleFontWeight": "normal", "domainColor": "#555", "tickColor": "#555", "domainWidth": 1.2, "tickWidth": 1.2, "tickSize": 4, "labelPadding": 3, "grid": false, "labelOverlap": false}
}
}
